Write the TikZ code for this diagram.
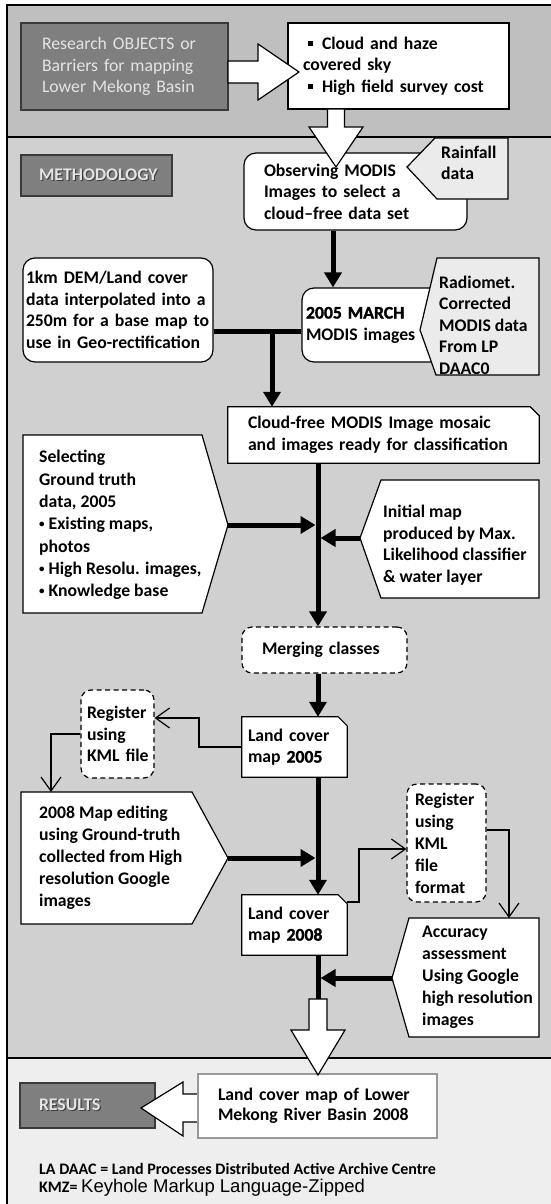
\documentclass[tikz,border=0pt]{standalone}
\usepackage{fontspec}
\setmainfont{Carlito}
\newfontfamily\arialf{Liberation Sans}
\newfontfamily\heavyf{Carlito}[BoldFeatures={FakeBold=1.5}]
\usetikzlibrary{arrows.meta}
\pgfdeclarelayer{back}
\pgfsetlayers{back,main}
\definecolor{topband}{HTML}{BFBFBF}
\definecolor{midband}{HTML}{D0D0D0}
\definecolor{botband}{HTML}{EEEEEE}
\definecolor{darkfill}{HTML}{7F7F7F}
\definecolor{darkline}{HTML}{3A3A3A}
\definecolor{lightfill}{HTML}{EBEBEB}
\definecolor{lighttext}{HTML}{E4E4E4}
\newcommand{\shtxt}[1]{\makebox[0pt][l]{\hspace{1.2pt}\raisebox{-1.2pt}{\textcolor{black!75}{#1}}}#1}
\newcommand{\sqbul}{\rule[3pt]{5pt}{5pt}}
\newcommand{\smbul}{\raisebox{2pt}{\fontsize{11}{11}\selectfont •}}
\begin{document}
\begin{tikzpicture}[x=1pt,y=-1pt,
  txt/.style={font=\fontsize{17.7}{21.5}\selectfont\bfseries, align=left, inner sep=0pt},
  wbox/.style={draw=black, fill=white, line width=1.2pt},
  dbox/.style={draw=darkline, fill=darkfill, line width=1.8pt},
  lbox/.style={draw=black, fill=lightfill, line width=1.2pt, line join=miter},
  dashbox/.style={draw=black, fill=white, line width=1.2pt, dash pattern=on 5pt off 3.5pt, rounded corners=10pt},
  rbox/.style={wbox, rounded corners=12pt},
  sized/.style n args={3}{minimum width=#1, minimum height=#2, text width=#3, inner xsep=0pt, inner ysep=0pt},
  thickln/.style={line width=5pt},
  thickarr/.style={thickln, -{Triangle[length=15pt,width=17pt]}},
  thinarr/.style={line width=1.2pt, -{Straight Barb[length=14pt,width=20pt]}},
  blockarr/.style={draw=black, fill=white, line width=1.2pt, line join=miter},
]
\useasboundingbox (0,0) rectangle (551,1204);
\clip (0,0) rectangle (551,1204);

% bands
\begin{pgfonlayer}{back}
\fill[topband] (7,5) rectangle (560,137);
\fill[midband] (7,137) rectangle (560,1058);
\fill[botband] (7,1058) rectangle (560,1210);
\draw[line width=1.5pt] (7,1210) -- (7,5) -- (560,5);
\draw[line width=1.5pt] (7,137) -- (560,137) (7,1058) -- (560,1058);
\end{pgfonlayer}

% top section
\node[dbox, txt, sized={207}{87}{165}, font=\fontsize{17.7}{21.5}\selectfont\mdseries, text=lighttext] (research) at (124.5,66.5)
  {Research OBJECTS or\\Barriers for mapping\\Lower Mekong Basin};
\node[wbox, txt, sized={221}{86}{191}] (cloud) at (398.5,66)
  {\hspace{5pt}\sqbul\hspace{9pt}Cloud and haze\\covered sky\\\hspace{5pt}\sqbul\hspace{9pt}High field survey cost};
\filldraw[blockarr] (228,61) -- (258,61) -- (258,44) -- (299,72) -- (258,100) -- (258,83) -- (228,83) -- cycle;

% methodology
\node[dbox, txt, sized={151}{41}{115}, text=lighttext] (meth) at (96.5,175.5) {\shtxt{METHODOLOGY}};
\node[rbox, txt, sized={223}{77}{183}] (obs) at (355.5,191.5)
  {Observing MODIS\\Images to select a\\cloud–free data set};
\filldraw[lbox] (435,138) -- (508,138) -- (508,199) -- (437,199) -- (407,167) -- cycle;
\node[txt, anchor=west] (rain) at (441,163) {Rainfall\\data};
\filldraw[blockarr] (327.5,109) -- (344.5,109) -- (344.5,127) -- (363,127) -- (336,167) -- (309,127) -- (327.5,127) -- cycle;

\node[rbox, txt, sized={190}{104}{184}] (dem) at (118,310)
  {1km DEM/Land cover\\data interpolated into a\\250m for a base map to\\use in Geo-rectification};
\node[rbox, txt, sized={143}{74}{135}] (m05) at (373.5,325)
  {{\heavyf\bfseries 2005 MARCH}\\MODIS images};
\filldraw[lbox] (437,258) -- (539,258) -- (539,375) -- (436,375) -- (420,330) -- cycle;
\node[txt, anchor=west] (radio) at (439,325)
  {Radiomet.\\Corrected\\MODIS data\\From LP\\DAAC0};

\node[txt, sized={311}{56}{271}] (mosaic) at (383.5,435)
  {Cloud-free MODIS Image mosaic\\and images ready for classification};

\filldraw[wbox, line join=miter] (23,435) -- (202,435) -- (228,525) -- (202,613) -- (23,613) -- cycle;
\coordinate (seltip) at (228,525);
\node[txt, anchor=west, font=\fontsize{17.7}{22.3}\selectfont\bfseries] (sel) at (39,525)
  {Selecting\\Ground truth\\data, 2005\\\smbul\ Existing maps,\\photos\\\smbul\ High Resolu. images,\\\smbul\ Knowledge base};

\filldraw[wbox, line join=miter] (381,480) -- (539,480) -- (539,598) -- (381,598) -- (360,538) -- cycle;
\coordinate (initip) at (360,538);
\node[txt, anchor=west] (init) at (383,545)
  {Initial map\\produced by Max.\\Likelihood classifier\\\& water layer};

\node[dashbox, txt, sized={165}{46}{125}] (merge) at (324.5,650) {Merging classes};
\node[txt, sized={105}{60}{93}] (lc05) at (294.5,747) {Land cover\\map {\heavyf\bfseries 2005}};
\node[dashbox, txt, sized={73}{88}{61}] (regL) at (117.5,734) {\mbox{Register}\\using\\\mbox{KML file}};

\filldraw[wbox, line join=miter] (21,792) -- (192,792) -- (228,858) -- (192,924) -- (21,924) -- cycle;
\coordinate (m08tip) at (228,858);
\coordinate (m08top) at (51,792);
\node[txt, anchor=west, font=\fontsize{17.7}{22}\selectfont\bfseries] (map08) at (39,858)
  {2008 Map editing\\using Ground-truth\\collected from High\\resolution Google\\images};

\node[dashbox, txt, sized={79}{118}{63}, font=\fontsize{17.7}{22}\selectfont\bfseries] (regR) at (446.5,843)
  {Register\\using\\KML\\file\\format};
\node[txt, sized={105}{60}{93}] (lc08) at (294.5,925) {Land cover\\map {\heavyf\bfseries 2008}};

\filldraw[wbox, line join=miter] (409,918) -- (539,918) -- (539,1037) -- (409,1037) -- (392,978) -- cycle;
\coordinate (acctip) at (392,978);
\coordinate (acctop) at (509,918);
\node[txt, anchor=west, font=\fontsize{17.7}{22}\selectfont\bfseries] (acc) at (422,977.5)
  {Accuracy\\assessment\\Using Google\\high resolution\\images};

% connectors
\coordinate (c333) at (333,0);
\draw[thickarr] (obs.south -| c333) -- (m05.north -| c333);
\coordinate (jn) at (272,331);
\draw[thickln] (dem.east |- jn) -- (m05.west |- jn);
\draw[thickarr] (jn) -- (mosaic.north -| jn);
\coordinate (mx) at (318,0);
\draw[thickarr] (mosaic.south -| mx) -- (merge.north -| mx);
\draw[thickarr, shorten >=2.5pt] (seltip) -- (seltip -| mx);
\draw[thickarr, shorten >=2.5pt] (initip) -- (initip -| mx);
\draw[thickarr] (merge.south -| mx) -- (lc05.north -| mx);
\draw[thickarr] (lc05.south -| mx) -- (lc08.north -| mx);
\draw[thickarr, shorten >=2.5pt] (m08tip) -- (m08tip -| mx);
\draw[thickarr, shorten >=2.5pt] (acctip) -- (acctip -| mx);
\coordinate (bat) at (318,999);
\draw[thickln] (lc08.south -| mx) -- (bat);

\coordinate (k1) at (199,718);
\draw[thinarr] (lc05.west) -| (k1) -- (regL.east |- k1);
\coordinate (k2) at (51,734);
\draw[thinarr] (regL.west) -- (regL.west -| k2) -- (m08top);
\coordinate (k3) at (359,902);
\coordinate (k4) at (359,849);
\draw[thinarr] (lc08.east |- k3) -- (k3) -- (k4) -- (regR.west |- k4);
\coordinate (k5) at (509,830);
\draw[thinarr] (regR.east |- k5) -- (k5) -- (acctop);

% results
\node[dbox, txt, sized={135}{45}{97}, text=lighttext] (res) at (87.5,1105.5) {\shtxt{RESULTS}};
\filldraw[blockarr] (198,1094) -- (183,1094) -- (183,1082) -- (141,1108) -- (183,1136) -- (183,1122) -- (198,1122) -- cycle;
\node[draw=black!40, fill=white, line width=1.5pt, txt, sized={239}{64}{199}, font=\fontsize{17.7}{20.5}\selectfont\bfseries] (lmrb) at (317.5,1106)
  {Land cover map of Lower\\Mekong River Basin 2008};
\filldraw[blockarr] (bat) -- (327,999) -- (327,1030) -- (345,1030) -- (318,1075) -- (291,1030) -- (309,1030) -- (309,999) -- cycle;

\node[txt, anchor=base west, font=\fontsize{16}{20}\selectfont\bfseries] (fn1) at (39,1174)
  {LA DAAC = Land Processes Distributed Active Archive Centre};
\node[txt, anchor=base west, font=\fontsize{16}{20}\selectfont\bfseries] (fn2) at (39,1192)
  {KMZ= {\arialf\mdseries\fontsize{18.5}{20}\selectfont Keyhole Markup Language-Zipped}};

% chamfered boxes
\begin{pgfonlayer}{back}
\foreach \n in {mosaic,lc05,lc08}
  \filldraw[wbox, line join=miter] (\n.north west) -- ([xshift=-9pt]\n.north east) -- ([yshift=-9pt]\n.north east) -- (\n.south east) -- (\n.south west) -- cycle;
\end{pgfonlayer}
\end{tikzpicture}
\end{document}
